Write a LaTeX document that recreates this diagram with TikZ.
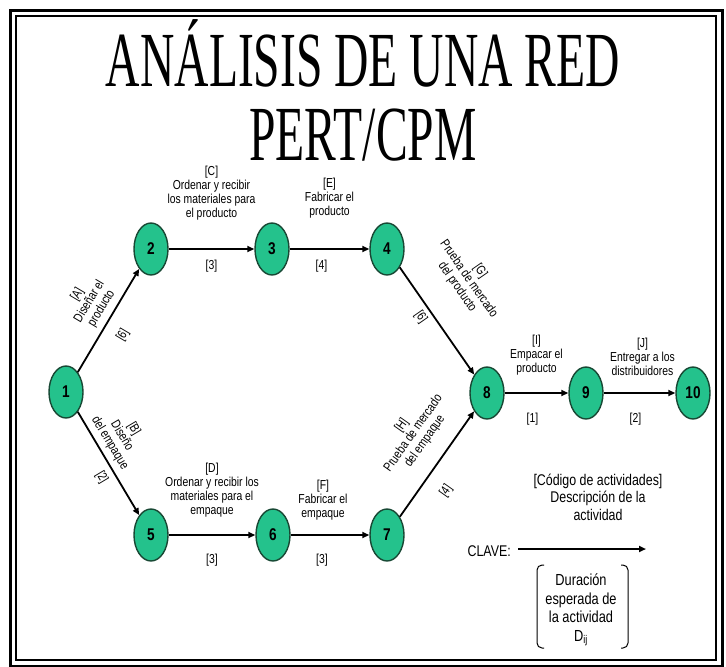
\documentclass[tikz,border=0pt]{standalone}
\usepackage{fontspec}
\newfontfamily\labelfamily{Liberation Sans}[FakeStretch=0.8]
\newfontfamily\titlefamily{Liberation Serif}[FakeStretch=0.61]
\usetikzlibrary{arrows.meta,shapes.geometric}
\definecolor{eventfill}{RGB}{36,194,140}
\definecolor{eventline}{RGB}{24,72,52}

\begin{document}
\begin{tikzpicture}[x=1pt,y=-1pt]
\tikzset{
  event/.style={ellipse,draw=eventline,fill=eventfill,line width=1.4pt,minimum width=34pt,minimum height=52pt,inner sep=0pt,font=\labelfamily\bfseries\fontsize{17}{17}\selectfont},
  activity/.style={draw=black,line width=1.8pt,-{Triangle[length=7pt,width=6pt]}},
  desc/.style={align=center,inner sep=0pt,font=\labelfamily\fontsize{13}{14}\selectfont},
  dur/.style={inner sep=0pt,font=\labelfamily\fontsize{13}{14}\selectfont},
  keytext/.style={align=center,inner sep=0pt,font=\labelfamily\fontsize{15.5}{17.5}\selectfont},
  titletext/.style={inner sep=0pt,font=\titlefamily\fontsize{78}{78}\selectfont}
}
\useasboundingbox (0,0) rectangle (726,667);
% frame
\draw[line width=3pt] (10,10) rectangle (722,666);
\draw[line width=1.2pt] (16,16) rectangle (716,660);
% title
\node[titletext,anchor=base] (title1) at (363,86) {ANÁLISIS DE UNA RED};
\node[titletext,anchor=base] (title2) at (363,160) {PERT/CPM};
% events
\node[event] (n_1) at (66,392) {1};
\node[event] (n_2) at (151,249) {2};
\node[event] (n_3) at (272,249) {3};
\node[event] (n_4) at (387,249) {4};
\node[event] (n_5) at (151,535) {5};
\node[event] (n_6) at (273,535) {6};
\node[event] (n_7) at (387,535) {7};
\node[event] (n_8) at (487,393) {8};
\node[event] (n_9) at (586,393) {9};
\node[event] (n_10) at (693,393) {10};
% activities
\draw[activity] (n_1) -- node[desc,sloped,above=5pt,pos=0.555] {[A]\\Diseñar el\\producto}
  node[dur,sloped,below=13pt,pos=0.457] {[6]} (n_2);
\draw[activity] (n_1) -- node[desc,sloped,above=4.5pt,pos=0.36] {[B]\\Diseño\\del empaque}
  node[dur,sloped,below=6pt,pos=0.57] {[2]} (n_5);
\draw[activity] (n_2) -- node[desc,above=28pt] {[C]\\Ordenar y recibir\\los materiales para\\el producto}
  node[dur,below=10pt] {[3]} (n_3);
\draw[activity] (n_3) -- node[desc,above=30pt] {[E]\\Fabricar el\\producto}
  node[dur,below=10pt,xshift=-8pt] {[4]} (n_4);
\draw[activity] (n_5) -- node[desc,above=17pt] {[D]\\Ordenar y recibir los\\materiales para el\\empaque}
  node[dur,below=18pt] {[3]} (n_6);
\draw[activity] (n_6) -- node[desc,above=13.5pt,xshift=-7pt] {[F]\\Fabricar el\\empaque}
  node[dur,below=18pt,xshift=-8pt] {[3]} (n_7);
\draw[activity] (n_4) -- node[desc,sloped,above=29pt,pos=0.374] {[G]\\Prueba de mercado\\del producto}
  node[dur,sloped,below=4pt,pos=0.403] {[6]} (n_8);
\draw[activity] (n_7) -- node[desc,sloped,above=16pt,pos=0.59] {[H]\\Prueba de mercado\\del empaque}
  node[dur,sloped,below=16pt,pos=0.37] {[4]} (n_8);
\draw[activity] (n_8) -- node[desc,above=16.5pt] {[I]\\Empacar el\\producto}
  node[dur,below=19pt,xshift=-4pt] {[1]} (n_9);
\draw[activity] (n_9) -- node[desc,above=16.5pt,xshift=3pt] {[J]\\Entregar a los\\distribuidores}
  node[dur,below=19pt,xshift=-4pt] {[2]} (n_10);
% key
\node[keytext] (keyhead) at (598,497) {[Código de actividades]\\Descripción de la\\actividad};
\node[keytext,anchor=east] (clave) at (511,551) {CLAVE:};
\coordinate (keyfrom) at (518,549);
\coordinate (keyto) at (646,549);
\draw[activity] (keyfrom) -- (keyto);
\node[keytext,font=\labelfamily\fontsize{16}{18.5}\selectfont] (keydur) at (581,610) {Duración\\esperada de\\la actividad\\D\textsubscript{ij}};
\draw[line width=1pt,rounded corners=5pt] (544,565) -- (537,565) -- (537,648) -- (544,648);
\draw[line width=1pt,rounded corners=5pt] (621,565) -- (628,565) -- (628,648) -- (621,648);
\end{tikzpicture}
\end{document}
